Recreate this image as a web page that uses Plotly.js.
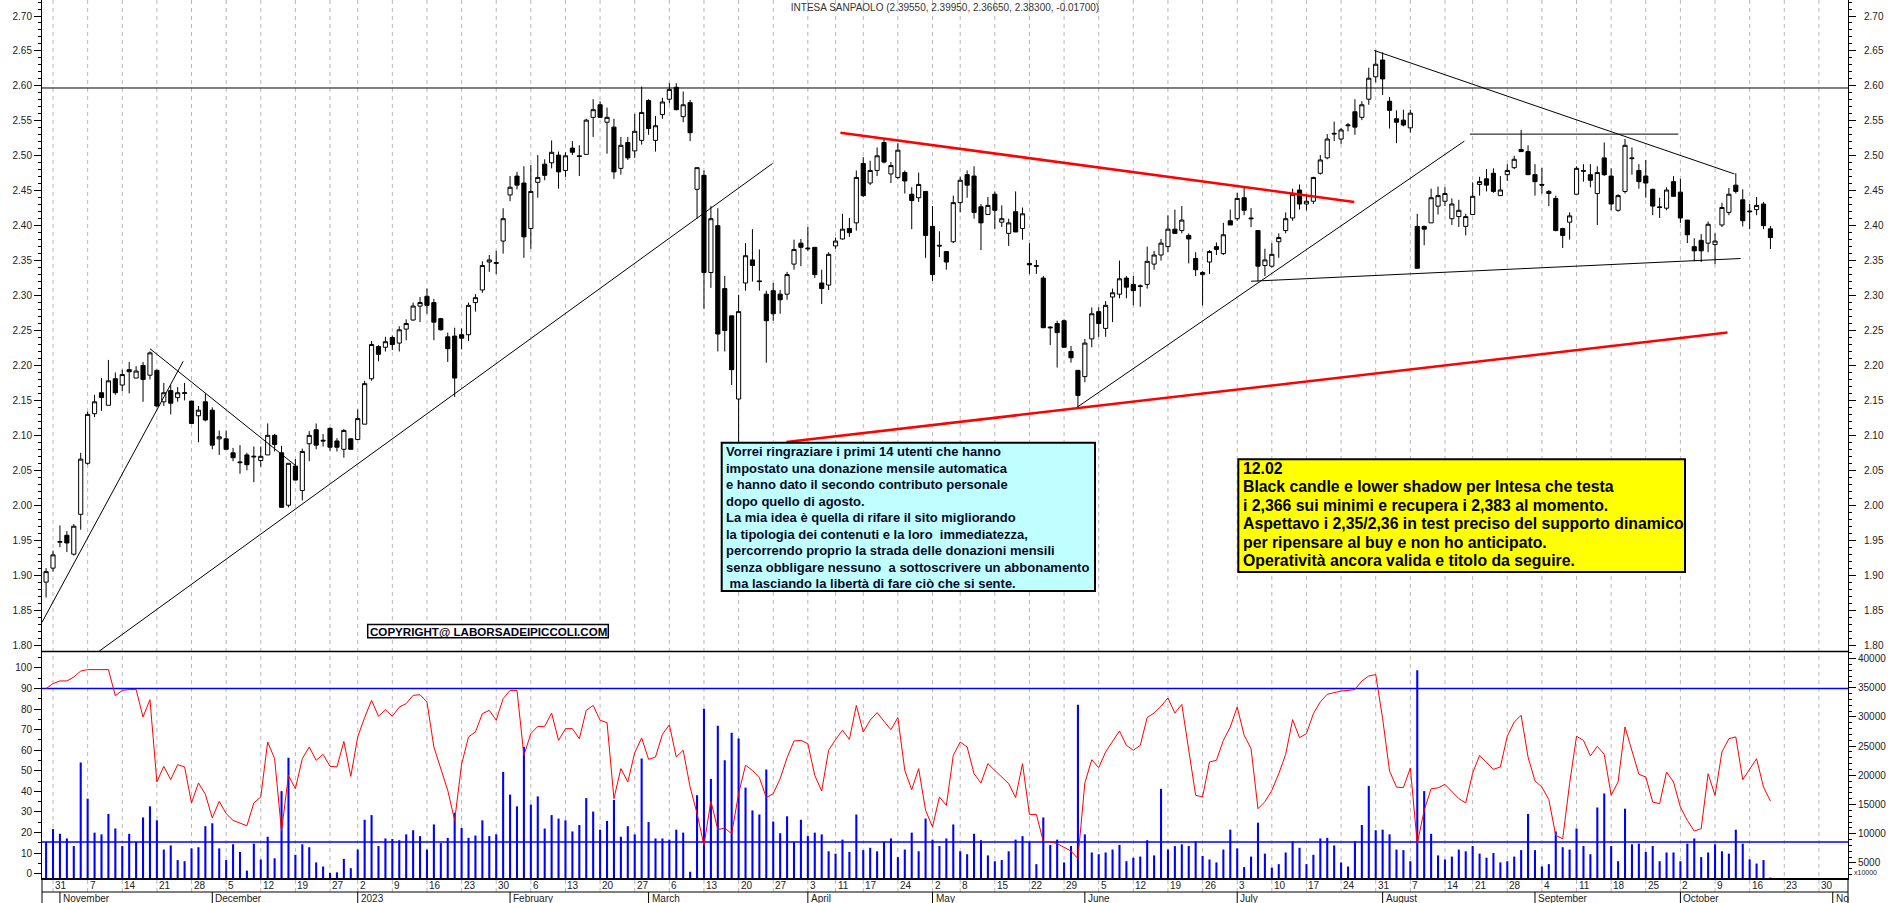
<!DOCTYPE html>
<html><head><meta charset="utf-8">
<script src="https://cdn.plot.ly/plotly-3.0.1.min.js"></script>
<style>html,body{margin:0;padding:0;background:#fff;}#chart{width:1890px;height:903px;}</style>
</head><body><div id="chart"></div>
<script>
// ---------------- DATA ----------------
const stockName = "INTESA SANPAOLO";
const dates = [
"2022-10-28","2022-10-31",
"2022-11-01","2022-11-02","2022-11-03","2022-11-04","2022-11-07","2022-11-08","2022-11-09","2022-11-10","2022-11-11","2022-11-14","2022-11-15","2022-11-16","2022-11-17","2022-11-18","2022-11-21","2022-11-22","2022-11-23","2022-11-24","2022-11-25","2022-11-28","2022-11-29","2022-11-30",
"2022-12-01","2022-12-02","2022-12-05","2022-12-06","2022-12-07","2022-12-08","2022-12-09","2022-12-12","2022-12-13","2022-12-14","2022-12-15","2022-12-16","2022-12-19","2022-12-20","2022-12-21","2022-12-22","2022-12-23","2022-12-27","2022-12-28","2022-12-29","2022-12-30",
"2023-01-02","2023-01-03","2023-01-04","2023-01-05","2023-01-06","2023-01-09","2023-01-10","2023-01-11","2023-01-12","2023-01-13","2023-01-16","2023-01-17","2023-01-18","2023-01-19","2023-01-20","2023-01-23","2023-01-24","2023-01-25","2023-01-26","2023-01-27","2023-01-30","2023-01-31",
"2023-02-01","2023-02-02","2023-02-03","2023-02-06","2023-02-07","2023-02-08","2023-02-09","2023-02-10","2023-02-13","2023-02-14","2023-02-15","2023-02-16","2023-02-17","2023-02-20","2023-02-21","2023-02-22","2023-02-23","2023-02-24","2023-02-27","2023-02-28",
"2023-03-01","2023-03-02","2023-03-03","2023-03-06","2023-03-07","2023-03-08","2023-03-09","2023-03-10","2023-03-13","2023-03-14","2023-03-15","2023-03-16","2023-03-17","2023-03-20","2023-03-21","2023-03-22","2023-03-23","2023-03-24","2023-03-27","2023-03-28","2023-03-29","2023-03-30","2023-03-31",
"2023-04-03","2023-04-04","2023-04-05","2023-04-06","2023-04-11","2023-04-12","2023-04-13","2023-04-14","2023-04-17","2023-04-18","2023-04-19","2023-04-20","2023-04-21","2023-04-24","2023-04-25","2023-04-26","2023-04-27","2023-04-28",
"2023-05-02","2023-05-03","2023-05-04","2023-05-05","2023-05-08","2023-05-09","2023-05-10","2023-05-11","2023-05-12","2023-05-15","2023-05-16","2023-05-17","2023-05-18","2023-05-19","2023-05-22","2023-05-23","2023-05-24","2023-05-25","2023-05-26","2023-05-29","2023-05-30","2023-05-31",
"2023-06-01","2023-06-02","2023-06-05","2023-06-06","2023-06-07","2023-06-08","2023-06-09","2023-06-12","2023-06-13","2023-06-14","2023-06-15","2023-06-16","2023-06-19","2023-06-20","2023-06-21","2023-06-22","2023-06-23","2023-06-26","2023-06-27","2023-06-28","2023-06-29","2023-06-30",
"2023-07-03","2023-07-04","2023-07-05","2023-07-06","2023-07-07","2023-07-10","2023-07-11","2023-07-12","2023-07-13","2023-07-14","2023-07-17","2023-07-18","2023-07-19","2023-07-20","2023-07-21","2023-07-24","2023-07-25","2023-07-26","2023-07-27","2023-07-28","2023-07-31",
"2023-08-01","2023-08-02","2023-08-03","2023-08-04","2023-08-07","2023-08-08","2023-08-09","2023-08-10","2023-08-11","2023-08-14","2023-08-16","2023-08-17","2023-08-18","2023-08-21","2023-08-22","2023-08-23","2023-08-24","2023-08-25","2023-08-28","2023-08-29","2023-08-30","2023-08-31",
"2023-09-01","2023-09-04","2023-09-05","2023-09-06","2023-09-07","2023-09-08","2023-09-11","2023-09-12","2023-09-13","2023-09-14","2023-09-15","2023-09-18","2023-09-19","2023-09-20","2023-09-21","2023-09-22","2023-09-25","2023-09-26","2023-09-27","2023-09-28","2023-09-29",
"2023-10-02","2023-10-03","2023-10-04","2023-10-05","2023-10-06","2023-10-09","2023-10-10","2023-10-11","2023-10-12","2023-10-13","2023-10-16","2023-10-17","2023-10-18","2023-10-19"
];
const futureDates = ["2023-10-20","2023-10-23","2023-10-24","2023-10-25","2023-10-26","2023-10-27","2023-10-30","2023-10-31","2023-11-01","2023-11-02","2023-11-03"];

const open = [1.890,1.910,1.947,1.957,1.930,1.987,2.060,2.131,2.161,2.143,
2.181,2.172,2.194,2.182,2.200,2.186,2.193,2.148,2.164,2.154,
2.160,2.149,2.128,2.148,2.136,2.095,2.095,2.075,2.062,2.072,
2.069,2.064,2.072,2.100,2.075,2.000,2.056,2.021,2.088,2.108,
2.093,2.110,2.092,2.080,2.095,2.094,2.116,2.181,2.227,2.226,
2.240,2.232,2.252,2.265,2.285,2.299,2.290,2.267,2.241,2.242,
2.244,2.244,2.290,2.308,2.348,2.346,2.378,2.444,2.471,2.461,
2.396,2.462,2.488,2.490,2.501,2.479,2.511,2.500,2.502,2.555,
2.573,2.548,2.541,2.482,2.519,2.507,2.522,2.579,2.522,2.559,
2.581,2.598,2.556,2.576,2.452,2.472,2.333,2.400,2.310,2.271,
2.152,2.318,2.351,2.321,2.302,2.307,2.302,2.302,2.345,2.375,
2.368,2.369,2.318,2.315,2.371,2.381,2.396,2.404,2.489,2.461,
2.479,2.519,2.474,2.469,2.476,2.445,2.440,2.449,2.399,2.372,
2.363,2.377,2.433,2.473,2.471,2.427,2.416,2.445,2.405,2.389,
2.420,2.396,2.346,2.343,2.325,2.255,2.260,2.264,2.220,2.193,
2.184,2.238,2.277,2.253,2.298,2.302,2.325,2.316,2.314,2.316,
2.345,2.358,2.370,2.395,2.393,2.386,2.353,2.330,2.348,2.370,
2.360,2.407,2.410,2.440,2.411,2.393,2.343,2.342,2.377,2.393,
2.411,2.451,2.431,2.435,2.475,2.497,2.531,2.524,2.543,2.563,
2.555,2.581,2.613,2.637,2.578,2.553,2.551,2.540,2.399,2.399,
2.404,2.428,2.435,2.410,2.413,2.399,2.416,2.459,2.467,2.475,
2.443,2.473,2.483,2.509,2.506,2.473,2.459,2.446,2.439,2.396,
2.405,2.445,2.479,2.473,2.446,2.497,2.471,2.422,2.449,2.497,
2.479,2.471,2.452,2.427,2.425,2.463,2.448,2.408,2.370,2.379,
2.375,2.373,2.401,2.419,2.458,2.437,2.421,2.423,2.431,2.3955];

const high = [1.910,1.935,1.971,1.963,1.973,2.075,2.134,2.158,2.182,2.208,
2.190,2.194,2.205,2.199,2.205,2.220,2.194,2.175,2.172,2.169,
2.175,2.149,2.142,2.160,2.140,2.107,2.107,2.082,2.086,2.075,
2.084,2.084,2.117,2.102,2.085,2.060,2.066,2.081,2.106,2.117,
2.102,2.111,2.096,2.109,2.096,2.137,2.178,2.235,2.229,2.241,
2.243,2.256,2.266,2.290,2.298,2.310,2.295,2.268,2.247,2.254,
2.253,2.290,2.302,2.349,2.358,2.364,2.425,2.471,2.477,2.485,
2.487,2.501,2.495,2.522,2.506,2.505,2.521,2.515,2.553,2.581,
2.578,2.569,2.553,2.527,2.527,2.560,2.599,2.581,2.557,2.583,
2.604,2.604,2.592,2.580,2.483,2.479,2.428,2.425,2.328,2.271,
2.301,2.375,2.395,2.366,2.307,2.318,2.308,2.334,2.380,2.381,
2.398,2.369,2.337,2.362,2.383,2.417,2.411,2.479,2.498,2.493,
2.512,2.524,2.491,2.518,2.479,2.455,2.476,2.449,2.428,2.392,
2.363,2.443,2.470,2.479,2.485,2.431,2.441,2.449,2.429,2.410,
2.449,2.426,2.375,2.351,2.328,2.256,2.264,2.266,2.228,2.193,
2.238,2.283,2.283,2.292,2.310,2.350,2.328,2.328,2.316,2.370,
2.364,2.381,2.415,2.423,2.428,2.389,2.362,2.335,2.365,2.376,
2.404,2.423,2.447,2.455,2.425,2.393,2.367,2.375,2.389,2.419,
2.453,2.459,2.445,2.470,2.501,2.531,2.549,2.540,2.547,2.581,
2.578,2.626,2.651,2.648,2.584,2.565,2.566,2.566,2.417,2.400,
2.453,2.456,2.455,2.439,2.437,2.417,2.462,2.470,2.481,2.482,
2.471,2.488,2.500,2.537,2.515,2.488,2.483,2.451,2.443,2.397,
2.419,2.485,2.488,2.488,2.485,2.519,2.482,2.445,2.524,2.512,
2.488,2.494,2.453,2.440,2.455,2.471,2.467,2.408,2.382,2.388,
2.406,2.389,2.433,2.454,2.475,2.452,2.431,2.441,2.434,2.3995];

const low = [1.868,1.905,1.940,1.933,1.928,1.965,2.058,2.126,2.135,2.143,
2.158,2.163,2.160,2.182,2.148,2.180,2.140,2.142,2.130,2.148,
2.150,2.117,2.090,2.120,2.080,2.072,2.080,2.063,2.045,2.050,
2.033,2.055,2.072,2.077,1.997,1.997,2.036,2.007,2.063,2.080,
2.084,2.078,2.077,2.068,2.080,2.094,2.116,2.178,2.206,2.220,
2.222,2.220,2.236,2.264,2.262,2.274,2.236,2.250,2.205,2.155,
2.223,2.235,2.277,2.304,2.334,2.331,2.360,2.435,2.452,2.354,
2.367,2.440,2.465,2.482,2.453,2.470,2.501,2.471,2.502,2.527,
2.554,2.503,2.467,2.473,2.494,2.497,2.516,2.530,2.506,2.553,
2.575,2.565,2.548,2.521,2.410,2.281,2.311,2.220,2.220,2.172,
2.090,2.307,2.320,2.307,2.204,2.264,2.274,2.294,2.337,2.342,
2.364,2.325,2.288,2.308,2.367,2.380,2.384,2.393,2.441,2.458,
2.471,2.489,2.461,2.467,2.446,2.395,2.434,2.354,2.321,2.355,
2.337,2.375,2.419,2.440,2.410,2.365,2.416,2.395,2.398,2.371,
2.391,2.380,2.331,2.331,2.254,2.229,2.197,2.226,2.204,2.139,
2.176,2.226,2.241,2.241,2.262,2.296,2.296,2.286,2.284,2.310,
2.337,2.350,2.362,2.389,2.389,2.346,2.328,2.286,2.331,2.358,
2.358,2.401,2.407,2.415,2.398,2.320,2.328,2.340,2.354,2.389,
2.407,2.423,2.422,2.431,2.473,2.495,2.521,2.517,2.535,2.530,
2.551,2.573,2.605,2.587,2.539,2.518,2.542,2.533,2.339,2.372,
2.404,2.416,2.428,2.401,2.398,2.386,2.415,2.443,2.449,2.447,
2.443,2.464,2.481,2.506,2.473,2.443,2.446,2.428,2.392,2.368,
2.380,2.445,2.463,2.455,2.401,2.471,2.422,2.420,2.446,2.473,
2.453,2.440,2.415,2.411,2.422,2.442,2.404,2.375,2.349,2.348,
2.362,2.345,2.398,2.415,2.446,2.399,2.395,2.415,2.395,2.3665];

const close = [1.905,1.929,1.948,1.946,1.970,2.066,2.130,2.148,2.154,2.178,
2.161,2.187,2.191,2.192,2.180,2.218,2.142,2.161,2.146,2.161,
2.161,2.117,2.136,2.122,2.086,2.098,2.080,2.068,2.061,2.058,
2.070,2.070,2.100,2.087,1.997,2.060,2.036,2.077,2.100,2.086,
2.092,2.083,2.083,2.107,2.080,2.124,2.174,2.230,2.216,2.234,
2.230,2.251,2.260,2.285,2.290,2.286,2.262,2.251,2.224,2.182,
2.239,2.286,2.297,2.343,2.351,2.347,2.410,2.455,2.458,2.384,
2.449,2.469,2.472,2.505,2.477,2.500,2.505,2.499,2.551,2.566,
2.555,2.555,2.477,2.515,2.497,2.535,2.562,2.539,2.543,2.577,
2.595,2.566,2.573,2.533,2.483,2.333,2.410,2.245,2.250,2.194,
2.277,2.357,2.343,2.320,2.264,2.274,2.294,2.330,2.366,2.369,
2.367,2.330,2.310,2.359,2.378,2.395,2.390,2.469,2.443,2.479,
2.500,2.491,2.486,2.508,2.464,2.436,2.459,2.386,2.330,2.371,
2.348,2.433,2.465,2.458,2.419,2.404,2.429,2.422,2.410,2.404,
2.391,2.417,2.344,2.342,2.254,2.254,2.247,2.226,2.211,2.157,
2.232,2.274,2.260,2.286,2.304,2.324,2.312,2.307,2.313,2.349,
2.358,2.375,2.395,2.389,2.408,2.381,2.337,2.333,2.363,2.366,
2.387,2.401,2.439,2.422,2.410,2.342,2.351,2.359,2.383,2.410,
2.445,2.431,2.435,2.469,2.494,2.524,2.532,2.537,2.544,2.541,
2.573,2.611,2.631,2.610,2.565,2.548,2.544,2.561,2.339,2.395,
2.440,2.443,2.446,2.431,2.422,2.413,2.442,2.463,2.458,2.449,
2.451,2.479,2.495,2.506,2.473,2.463,2.458,2.449,2.393,2.386,
2.414,2.482,2.478,2.465,2.476,2.473,2.431,2.443,2.515,2.496,
2.463,2.461,2.428,2.426,2.451,2.442,2.411,2.387,2.364,2.364,
2.402,2.378,2.426,2.445,2.449,2.407,2.420,2.429,2.400,2.383];

// volume, in units of 10000 shares (right axis of lower panel)
const volume = [8600,10800,10000,9200,7900,22200,16000,10200,9900,13400,
10900,7900,10000,8600,12800,14700,12300,7300,8000,5500,
5300,7500,7700,11300,11800,7500,5500,8200,6900,3700,
8300,5600,9500,5800,17300,23000,6400,8200,7700,5100,
4400,3300,3400,5700,4100,7300,12400,13200,7900,9200,
9100,8900,9900,10600,9600,7300,11600,8400,9300,13600,
11000,9300,9700,12300,9600,9900,20600,16700,14700,24900,
15000,16400,10900,13200,12600,12300,10400,11500,16100,13800,
10700,12200,15800,9500,11300,9900,22900,12000,9200,9200,
9000,10700,10200,3500,16600,31400,19400,28500,22600,27300,
26300,17900,14000,13300,21000,12100,10100,13000,8600,12400,
9600,10200,9900,7000,6600,9000,6900,13300,7200,7600,
7000,8600,9200,6000,7300,10200,7000,12600,9000,7900,
9200,11600,7000,6500,10000,8900,6300,5300,5500,7000,
9000,9600,8600,4800,12800,8100,9000,5100,7900,32100,
9900,6800,6500,6800,7300,8100,5300,5900,6100,8900,
6300,17700,7300,7900,8200,7900,8700,6200,5600,5100,
7300,10700,7500,4300,6100,11900,6600,4200,4800,6800,
8700,7600,4800,6400,9200,9300,8000,5100,4400,8700,
11500,18200,10600,10700,9900,7300,7200,5300,38000,17300,
10000,6300,5600,6100,7300,7000,7900,6600,5900,6700,
5100,5300,6100,7200,13400,7200,4400,4800,10400,7700,
7300,10900,7900,6500,14500,16900,7900,5300,14300,8200,
8300,6900,7900,5300,6800,6800,5300,8300,9200,6000,
6800,8200,7000,6600,10700,8300,5600,4900,5500,2500];

// oscillator (left axis of lower panel, 0-100)
const oscillator = [90.0,92.4,93.7,93.7,95.6,98.5,99.2,99.2,99.2,99.2,
86.5,89.1,89.5,89.5,76.2,84.6,44.6,52.2,45.7,53.0,
51.9,34.4,44.1,38.6,27.1,35.2,29.2,25.9,24.6,23.3,
34.4,37.3,64.0,55.9,20.7,47.8,41.3,55.9,61.6,55.1,
58.0,52.2,51.9,64.3,47.3,66.5,75.9,84.3,76.5,79.7,
76.5,81.0,82.7,86.7,87.0,83.5,61.6,51.1,40.5,25.9,
53.2,66.5,68.9,77.8,79.4,74.6,85.1,89.1,89.1,57.5,
68.1,71.6,71.6,78.1,64.8,70.5,70.5,65.6,79.4,81.8,
74.6,73.4,36.5,51.1,44.6,58.8,66.0,55.6,56.7,67.7,
72.4,56.7,60.0,42.1,29.2,13.8,35.3,21.4,22.2,19.4,
38.9,52.7,50.2,46.7,37.0,38.9,46.2,56.4,64.5,64.8,
63.2,47.8,40.2,60.0,65.2,69.7,65.3,81.8,68.9,74.6,
78.3,74.1,70.0,75.9,50.2,40.8,51.1,30.8,22.7,37.3,
33.2,57.5,64.0,61.6,48.6,44.1,53.5,50.2,47.0,43.8,
37.0,53.5,28.8,28.8,15.7,15.4,14.6,13.0,11.0,7.3,
44.1,55.4,51.5,59.2,64.0,69.4,62.4,60.0,62.4,75.9,
78.1,81.4,85.4,78.1,82.3,60.0,38.1,37.3,54.3,55.1,
64.8,71.3,81.0,67.3,60.8,31.6,35.0,40.5,48.6,58.0,
74.9,66.1,68.1,77.8,83.5,87.2,88.0,88.8,89.1,89.5,
93.7,96.1,96.8,75.4,49.9,42.1,41.8,51.4,14.6,30.8,
41.3,41.7,43.4,39.7,36.5,34.4,48.9,57.5,54.3,50.7,
51.9,66.8,73.7,77.0,56.7,45.1,42.1,36.0,18.6,17.0,
43.8,66.8,64.8,57.2,61.9,58.0,38.1,44.6,71.3,60.0,
48.3,47.0,34.8,34.0,49.4,44.6,32.4,25.9,20.7,21.9,
48.6,38.1,59.2,65.6,66.5,45.7,51.1,55.9,42.1,35.3];

const oscBands = [90, 15.4];
const resistanceLevel = 2.597;
const monthNames = ["January","February","March","April","May","June","July","August","September","October","November","December"];

// hand-drawn trendlines: [x0 (bar index), y0, x1, y1]
const blackLines = [[-0.59,1.8325,19.8,2.206],[15,2.224,36,2.057],[7.5,1.79,104.9,2.489],
  [148.8,2.1397,204.8,2.521],[174,2.3205,244.7,2.353],[191.8,2.6506,243.8,2.474],[205.6,2.531,235.7,2.531]];
const redLines = [[114.7,2.533,188.9,2.434],[106.9,2.0904,242.8,2.247]];

const noteCyan = ["Vorrei ringraziare i primi 14 utenti che hanno","impostato una donazione mensile automatica",
 "e hanno dato il secondo contributo personale","dopo quello di agosto.",
 "La mia idea è quella di rifare il sito migliorando","la tipologia dei contenuti e la loro\u00a0 immediatezza,",
 "percorrendo proprio la strada delle donazioni mensili","senza obbligare nessuno\u00a0 a sottoscrivere un abbonamento",
 "\u00a0ma lasciando la libertà di fare ciò che si sente."];
const noteYellow = ["12.02","Black candle e lower shadow per Intesa che testa","i 2,366 sui minimi e recupera i 2,383 al momento.",
 "Aspettavo i 2,35/2,36 in test preciso del supporto dinamico","per ripensare al buy e non ho anticipato.",
 "Operatività ancora valida e titolo da seguire."];
const copyrightText = "COPYRIGHT@ LABORSADEIPICCOLI.COM";

// ---------------- LAYOUT GEOMETRY ----------------
const W = 1890, H = 903;
const L = 42, R = 1848, B = 877.7;
const lowerTopPx = 651.3;
const pw = R - L, ph = B;
const pX = x => (x - L) / pw;
const pY = y => (B - y) / ph;
const split = pY(lowerTopPx);
const xRange = [-0.59, 260.2];
const priceRange = [1.7907, 2.7229];
const oscRange = [-2.1, 108];
const volRange = [2430, 41200];
const FONT = "Liberation Sans, Arial, sans-serif";
const tickFont = {family: FONT, size: 10, color: "#222"};

const allDates = dates.concat(futureDates);
const info = allDates.map(s => { const d = new Date(s + "T00:00:00Z");
  return {dow: d.getUTCDay(), t: d.getTime(), m: d.getUTCMonth(), y: d.getUTCFullYear(), day: d.getUTCDate()}; });
const idx = dates.map((d, i) => i);
const weekStarts = [], monthStarts = [];
for (let i = 1; i < info.length; i++) {
  const a = info[i-1], b = info[i];
  if (b.dow < a.dow || b.t - a.t >= 7*864e5) weekStarts.push(i);
  if (b.m !== a.m) monthStarts.push(i);
}

const shapes = [], annotations = [];
weekStarts.forEach(i => shapes.push({type:"line", xref:"x", yref:"paper", x0:i, x1:i, y0:pY(891.7), y1:1,
  line:{color:"#b8b8b8", width:1, dash:"4px,4px"}, layer:"below"}));
shapes.push({type:"line", xref:"paper", yref:"y", x0:0, x1:1, y0:resistanceLevel, y1:resistanceLevel, line:{color:"#000", width:1}});
oscBands.forEach(v => shapes.push({type:"line", xref:"paper", yref:"y3", x0:0, x1:1, y0:v, y1:v, line:{color:"#0000ff", width:1.5}, layer:"below"}));
shapes.push({type:"line", xref:"paper", yref:"paper", x0:0, x1:1, y0:split, y1:split, line:{color:"#000", width:1.5}});
shapes.push({type:"line", xref:"paper", yref:"paper", x0:0, x1:1, y0:pY(891.7), y1:pY(891.7), line:{color:"#000", width:1}});
shapes.push({type:"line", xref:"paper", yref:"paper", x0:0, x1:0, y0:pY(903), y1:0, line:{color:"#000", width:1}});
shapes.push({type:"line", xref:"paper", yref:"paper", x0:1, x1:1, y0:pY(903), y1:0, line:{color:"#000", width:1}});
monthStarts.forEach(i => shapes.push({type:"line", xref:"x", yref:"paper", x0:i, x1:i, y0:pY(903), y1:pY(891.7), line:{color:"#000", width:1}}));
blackLines.forEach(l => shapes.push({type:"line", xref:"x", yref:"y", x0:l[0], y0:l[1], x1:l[2], y1:l[3], line:{color:"#000", width:1}}));
redLines.forEach(l => shapes.push({type:"line", xref:"x", yref:"y", x0:l[0], y0:l[1], x1:l[2], y1:l[3], line:{color:"#ff0000", width:2.5}}));

function box(x0, y0, x1, y1, fill, lw) {
  shapes.push({type:"rect", xref:"paper", yref:"paper", x0:pX(x0), x1:pX(x1), y0:pY(y1), y1:pY(y0),
    fillcolor:fill, line:{color:"#000", width:lw}, layer:"above"});
}
function lines(arr, x, y0, step, size, color) {
  arr.forEach((t, k) => annotations.push({xref:"paper", yref:"paper", x:pX(x), y:pY(y0 + k*step), text:t,
    showarrow:false, xanchor:"left", yanchor:"middle", font:{family:FONT, size:size, color:color, weight:"bold"}}));
}
box(721.7, 442.7, 1095, 590.7, "#c0ffff", 2);
lines(noteCyan, 724, 451.7, 16.45, 13, "#0a0a28");
box(1238.3, 459, 1685, 571.7, "#ffff00", 2);
lines(noteYellow, 1241, 468.3, 18.5, 15.8, "#000");
box(367.7, 624.2, 608.3, 637.6, "#ffffff", 1.5);
annotations.push({xref:"paper", yref:"paper", x:pX(488), y:pY(631), text:copyrightText, showarrow:false,
  xanchor:"center", yanchor:"middle", font:{family:FONT, size:11.6, color:"#000018", weight:"bold"}});

weekStarts.forEach(i => annotations.push({xref:"x", yref:"paper", x:i, y:pY(885), text:String(info[i].day), showarrow:false,
  xanchor:"left", yanchor:"middle", xshift:0, font:tickFont}));
monthStarts.forEach(i => {
  let t = info[i].m === 0 ? String(info[i].y) : monthNames[info[i].m];
  if (xRange[1] - i < 6) t = t.slice(0, 2);
  annotations.push({xref:"x", yref:"paper", x:i, y:pY(898), text:t, showarrow:false, xanchor:"left", yanchor:"middle", xshift:1, font:tickFont});
});
annotations.push({xref:"paper", yref:"paper", x:pX(1852), y:pY(872), text:"x10000", showarrow:false, xanchor:"left", yanchor:"middle",
  font:{family:FONT, size:7, color:"#222"}});

const last = dates.length - 1;
const titleText = stockName + " (" + [open[last], high[last], low[last], close[last], close[last] - close[last-1]].map(v => v.toFixed(5)).join(", ") + ")";

const traces = [
  {type:"candlestick", x:idx, open:open, high:high, low:low, close:close, xaxis:"x", yaxis:"y",
   increasing:{line:{color:"#000", width:1}, fillcolor:"#ffffff"},
   decreasing:{line:{color:"#000", width:1}, fillcolor:"#000000"},
   whiskerwidth:0, hoverinfo:"skip", showlegend:false},
  {type:"scatter", x:[0], y:[2.2], xaxis:"x", yaxis:"y4", mode:"markers", marker:{opacity:0}, hoverinfo:"skip", showlegend:false},
  {type:"bar", x:idx, y:volume, xaxis:"x", yaxis:"y2", width:0.3, marker:{color:"#0000ff", line:{width:0}}, hoverinfo:"skip", showlegend:false},
  {type:"scatter", mode:"lines", x:idx, y:oscillator, xaxis:"x", yaxis:"y3", line:{color:"#ff0000", width:1}, hoverinfo:"skip", showlegend:false}
];

const yCommon = {ticks:"outside", ticklen:7, tickwidth:1, tickcolor:"#000", showline:true, linecolor:"#000", linewidth:1,
  showgrid:false, zeroline:false, tickfont:tickFont, fixedrange:true};
const layout = {
  width:W, height:H, margin:{l:L, r:W-R, t:0, b:H-B, pad:0},
  paper_bgcolor:"#fff", plot_bgcolor:"#fff", showlegend:false,
  boxgap:0.4, boxgroupgap:0,
  title:{text:titleText, x:0.5, xref:"paper", y:1 - 7.3/H, yref:"container", yanchor:"middle", font:{family:FONT, size:10, color:"#333"}},
  xaxis:{domain:[0,1], range:xRange, anchor:"y2", showgrid:false, zeroline:false, showticklabels:false, ticks:"",
    showline:true, linecolor:"#000", linewidth:1.5, rangeslider:{visible:false}, fixedrange:true},
  yaxis:Object.assign({}, yCommon, {domain:[split,1], range:priceRange, anchor:"x", side:"left", tick0:1.8, dtick:0.05, tickformat:".2f",
    minor:{tick0:1.8, dtick:0.01, ticks:"outside", ticklen:3, tickcolor:"#000", showgrid:false}}),
  yaxis4:Object.assign({}, yCommon, {overlaying:"y", range:priceRange, anchor:"x", side:"right", tick0:1.8, dtick:0.05, tickformat:".2f",
    ticklabelstandoff:6, minor:{tick0:1.8, dtick:0.01, ticks:"outside", ticklen:3, tickcolor:"#000", showgrid:false}}),
  yaxis2:Object.assign({}, yCommon, {domain:[0,split], range:volRange, anchor:"x", side:"right", tick0:0, dtick:5000, tickformat:"d",
    minor:{tick0:0, dtick:1000, ticks:"outside", ticklen:3, tickcolor:"#000", showgrid:false}}),
  yaxis3:Object.assign({}, yCommon, {overlaying:"y2", range:oscRange, anchor:"x", side:"left", tick0:0, dtick:10,
    minor:{tick0:0, dtick:5, ticks:"outside", ticklen:3, tickcolor:"#000", showgrid:false}}),
  shapes:shapes, annotations:annotations
};
Plotly.newPlot("chart", traces, layout, {displayModeBar:false, staticPlot:true});
</script></body></html>
